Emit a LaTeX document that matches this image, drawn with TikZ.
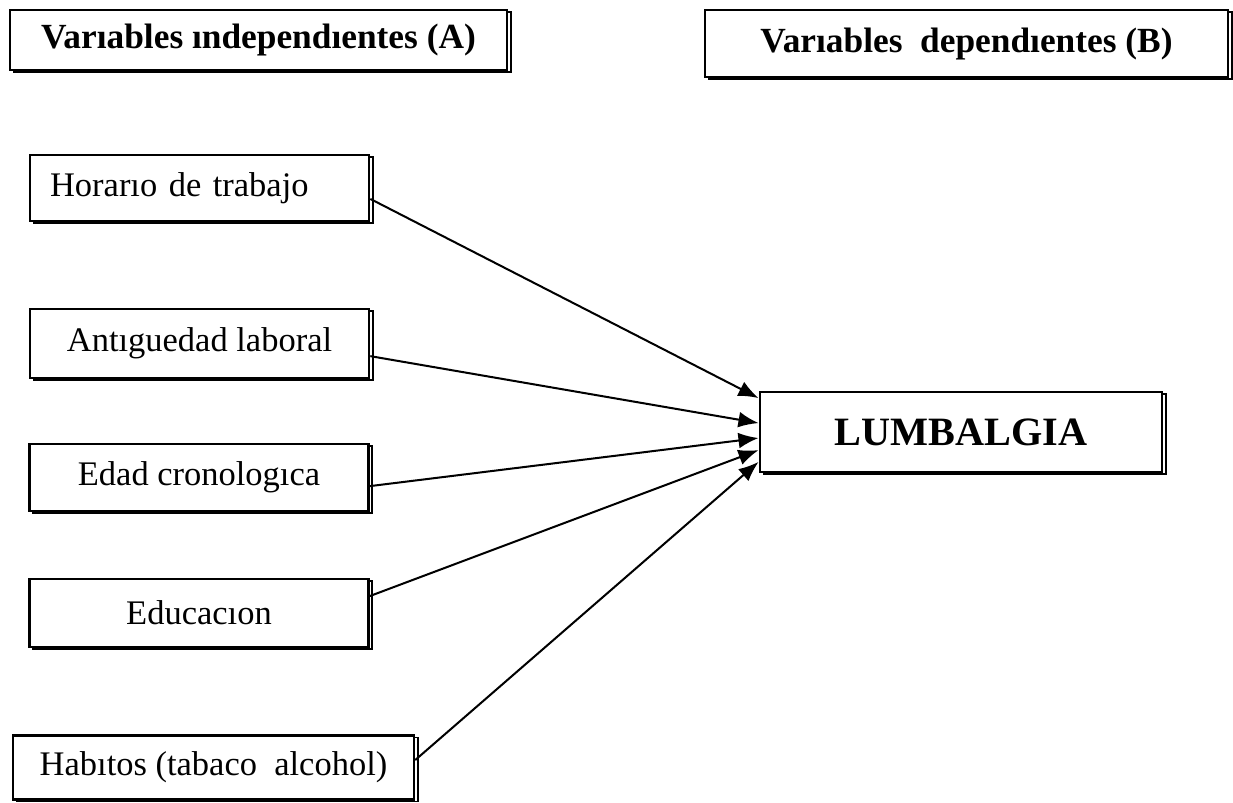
\documentclass[tikz,border=0pt]{standalone}
\usepackage{fontspec}
\setmainfont{Liberation Serif}
\usetikzlibrary{arrows.meta,shadows}

\begin{document}
\begin{tikzpicture}[x=0.348pt, y=-0.348pt,
    varbox/.style={rectangle, draw, line width=0.9pt, fill=white, align=center,
        font=\fontsize{12}{14}\selectfont,
        general shadow={draw=black, fill=white, line width=0.6pt, shadow xshift=1.3pt, shadow yshift=-0.7pt}},
    headbox/.style={varbox, font=\fontsize{12.3}{14}\selectfont\bfseries},
    link/.style={line width=0.7pt, -{Latex[length=7pt, width=5.5pt]}}]

    \useasboundingbox (0,0) rectangle (1233,802);

    % Headers
    \node[headbox, minimum width=173pt, minimum height=20.9pt] (indep) at (258.5,40) {Varıables ındependıentes (A)};
    \node[headbox, minimum width=182pt, minimum height=23.3pt] (dep) at (966.5,43.5) {Varıables\ \ dependıentes (B)};

    % Independent variables
    \node[varbox, text width=104pt, inner xsep=7pt, align=left, minimum height=23pt] (horario) at (199.5,188) {Horarıo de trabajo};
    \node[varbox, minimum width=118pt, minimum height=24pt] (antig) at (199.5,343.5) {Antıguedad laboral};
    \node[varbox, minimum width=118pt, minimum height=23.3pt] (edad) at (199,477.5) {Edad cronologıca};
    \node[varbox, minimum width=118pt, minimum height=23.6pt] (educ) at (199,613) {Educacıon};
    \node[varbox, minimum width=139.5pt, minimum height=22.3pt] (habitos) at (213.5,767.5) {Habıtos (tabaco\ \ alcohol)};

    % Dependent variable
    \node[varbox, font=\fontsize{14}{16}\selectfont\bfseries, minimum width=140pt, minimum height=27.8pt] (lumb) at (961,432) {LUMBALGIA};

    % Arrows
    \draw[link] ([yshift=-3.8pt]horario.east) -- ([yshift=11.8pt]lumb.west);
    \draw[link] ([yshift=-4.4pt]antig.east) -- ([yshift=3.1pt]lumb.west);
    \draw[link] ([yshift=-3pt]edad.east) -- ([yshift=-2.1pt]lumb.west);
    \draw[link] ([yshift=5.9pt]educ.east) -- ([yshift=-6.3pt]lumb.west);
    \draw[link] ([yshift=2.6pt]habitos.east) -- ([yshift=-10.4pt]lumb.west);
\end{tikzpicture}
\end{document}
